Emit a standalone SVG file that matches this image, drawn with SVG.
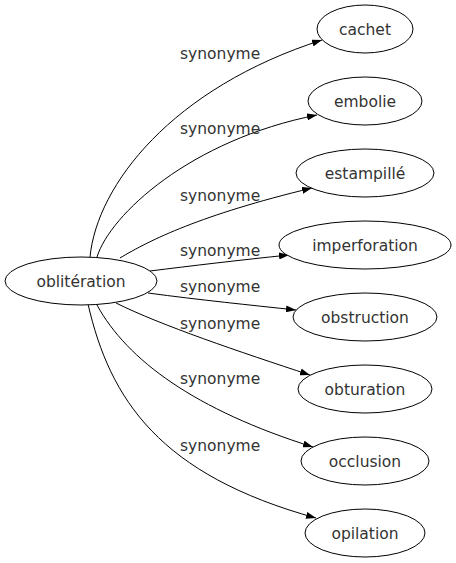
<svg xmlns="http://www.w3.org/2000/svg" width="456" height="563" viewBox="0 0 456 563">
<defs>
<marker id="arr" markerUnits="userSpaceOnUse" viewBox="0 0 10 7" refX="10" refY="3.5" markerWidth="10" markerHeight="7" orient="auto">
<path d="M0,0 L10,3.5 L0,7 z" fill="#000"/>
</marker>
<style>
.node ellipse{fill:#fff;stroke:#000;stroke-width:1}
.node text{font-family:"DejaVu Sans",sans-serif;font-size:15.5px;fill:#333;text-anchor:middle}
.edges path{fill:none;stroke:#000;stroke-width:1;marker-end:url(#arr)}
.edges text{font-family:"DejaVu Sans",sans-serif;font-size:15.5px;fill:#333}
</style>
</defs>
<rect width="456" height="563" fill="#fff"/>
<g id="edges" class="edges">
<path d="M90,257 C97,185 172,88 322,40"/>
<path d="M97,257 C110,215 190,140 317,115"/>
<path d="M120,258 C150,240 200,215 312,188"/>
<path d="M150,271 C190,266 240,260 289,255"/>
<path d="M148,293 C200,300 250,305 296,310"/>
<path d="M116,303 C160,325 240,352 310,375"/>
<path d="M97,305 C127,360 195,410 313,447"/>
<path d="M88,304 C110,400 160,475 316,518"/>
<text x="180" y="59">synonyme</text>
<text x="180" y="134">synonyme</text>
<text x="180" y="201">synonyme</text>
<text x="180" y="256">synonyme</text>
<text x="180" y="292">synonyme</text>
<text x="180" y="329">synonyme</text>
<text x="180" y="384">synonyme</text>
<text x="180" y="451">synonyme</text>
</g>
<g id="n0" class="node"><ellipse cx="81" cy="281" rx="76" ry="24"/><text x="81" y="287">oblitération</text></g>
<g id="n1" class="node"><ellipse cx="365" cy="29" rx="48" ry="24"/><text x="365" y="35">cachet</text></g>
<g id="n2" class="node"><ellipse cx="365" cy="101" rx="57" ry="24"/><text x="365" y="107">embolie</text></g>
<g id="n3" class="node"><ellipse cx="365" cy="173" rx="69" ry="24"/><text x="365" y="179">estampillé</text></g>
<g id="n4" class="node"><ellipse cx="365" cy="245" rx="86" ry="24"/><text x="365" y="251">imperforation</text></g>
<g id="n5" class="node"><ellipse cx="365" cy="317" rx="72" ry="24"/><text x="365" y="323">obstruction</text></g>
<g id="n6" class="node"><ellipse cx="365" cy="389" rx="67" ry="24"/><text x="365" y="395">obturation</text></g>
<g id="n7" class="node"><ellipse cx="365" cy="461" rx="64" ry="24"/><text x="365" y="467">occlusion</text></g>
<g id="n8" class="node"><ellipse cx="365" cy="533" rx="60" ry="24"/><text x="365" y="539">opilation</text></g>
</svg>
